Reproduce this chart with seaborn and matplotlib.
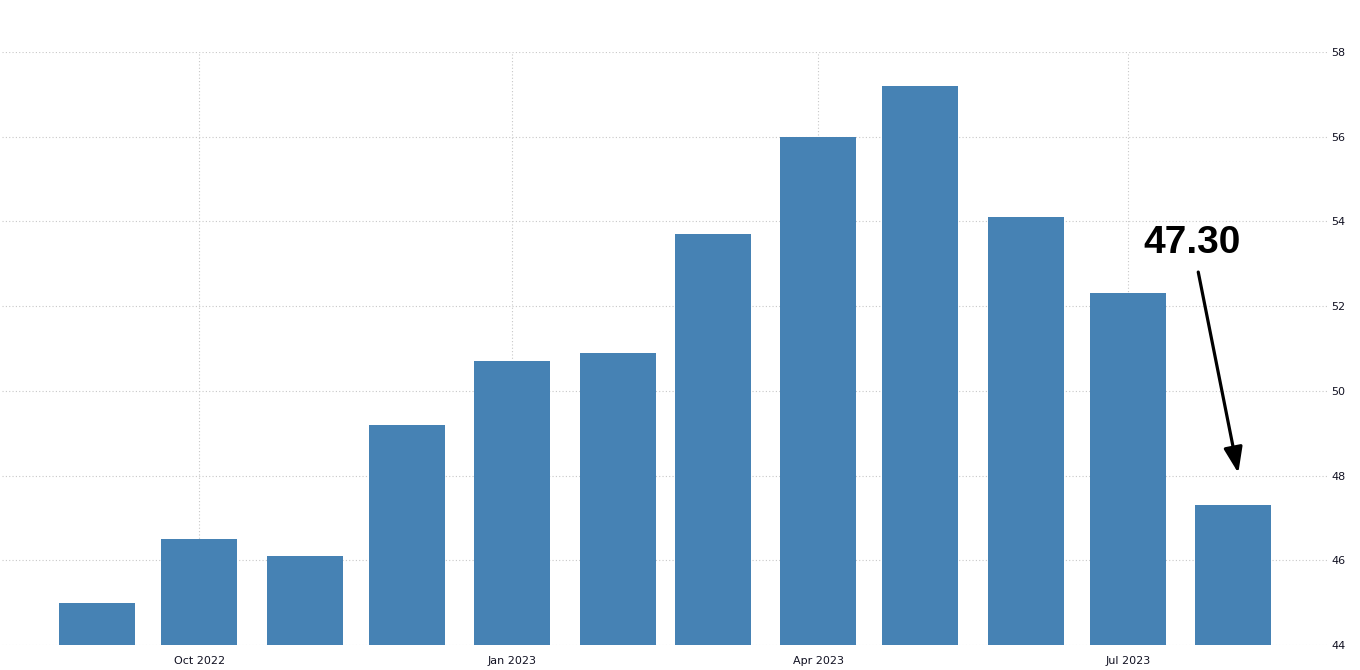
import pandas as pd
import matplotlib.pyplot as plt
import matplotlib.dates as mdates
import seaborn as sns

# Dados mensais (leitura do gráfico)
meses = ['2022-09-01', '2022-10-01', '2022-11-01', '2022-12-01',
         '2023-01-01', '2023-02-01', '2023-03-01', '2023-04-01',
         '2023-05-01', '2023-06-01', '2023-07-01', '2023-08-01']
valores = [45.0, 46.5, 46.1, 49.2, 50.7, 50.9, 53.7, 56.0, 57.2, 54.1, 52.3, 47.3]
ticks_x = ['2022-10-01', '2023-01-01', '2023-04-01', '2023-07-01']
ticks_y = [44, 46, 48, 50, 52, 54, 56, 58]
ultimo_rotulo = '47.30'

df = pd.DataFrame({'data': pd.to_datetime(meses), 'valor': valores})
df['x'] = mdates.date2num(df['data'])

sns.set_style('white')
plt.rcParams['font.family'] = ['DejaVu Sans']

fig = plt.figure(figsize=(13.6, 6.7), dpi=100)
ax = fig.add_axes([2 / 1360, 25 / 670, 1325 / 1360, 593 / 670])

sns.barplot(data=df, x='x', y='valor', native_scale=True, color='#4682b4',
            saturation=1, width=0.8, linewidth=0, ax=ax)

ax.set_xlim(mdates.date2num(pd.Timestamp('2022-08-04')),
            mdates.date2num(pd.Timestamp('2023-08-28 14:00')))
ax.set_ylim(44, 58)

ax.set_xticks(mdates.date2num(pd.to_datetime(ticks_x)))
ax.xaxis.set_major_formatter(mdates.DateFormatter('%b %Y'))
ax.set_yticks(ticks_y)
ax.yaxis.tick_right()

ax.grid(True, linestyle=(0, (1, 2)), color='#c8c8c8', linewidth=0.8)
ax.set_axisbelow(True)
for s in ax.spines.values():
    s.set_visible(False)

ax.tick_params(axis='x', length=5, color='#cccccc', labelsize=8, pad=3,
               labelcolor='#111122')
ax.tick_params(axis='y', length=0, labelsize=8, pad=3, labelcolor='#111122')
ax.set_xlabel('')
ax.set_ylabel('')

# Anotação do último valor
x_ultimo = df['x'].iloc[-1]
ax.annotate(ultimo_rotulo,
            xy=(x_ultimo + 1.5, 48.06),
            xytext=(x_ultimo - 12.0, 53.5),
            ha='center', va='center', fontsize=28, fontweight='bold',
            fontstretch='normal', color='black',
            family=['Liberation Sans', 'DejaVu Sans'],
            arrowprops=dict(arrowstyle='-|>,head_length=0.6,head_width=0.22',
                            color='black', lw=2.3,
                            mutation_scale=26, shrinkA=6, shrinkB=0))

fig.savefig('out.png', dpi=100)
